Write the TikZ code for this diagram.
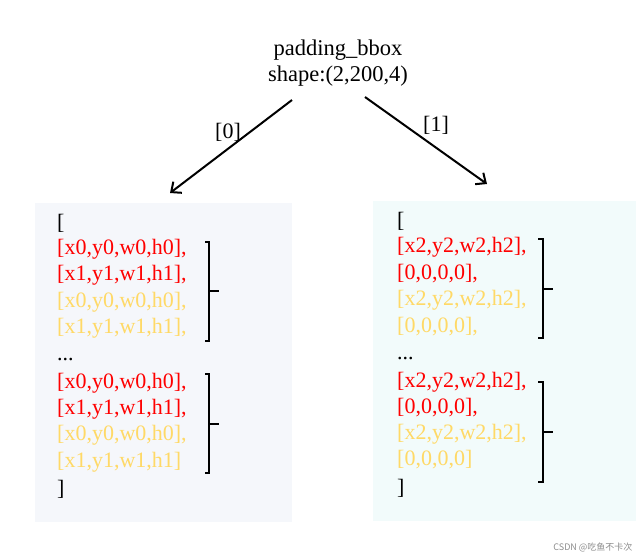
\documentclass[tikz,border=0pt]{standalone}
\usepackage{fontspec}
\setmainfont{Liberation Serif}
\newfontfamily\cjk{Noto Sans CJK SC}
\usetikzlibrary{arrows.meta}

\definecolor{boxgray}{HTML}{F5F7FB}
\definecolor{boxcyan}{HTML}{F2FBFB}
\definecolor{gold}{HTML}{FFD966}

\tikzstyle{caja} = [rectangle, inner sep=0pt, anchor=north west]
\tikzstyle{fila} = [anchor=mid west, inner sep=0pt, font=\fontsize{22}{26}\selectfont]
\tikzstyle{flecha} = [-{Straight Barb[length=8pt,width=14pt]}, line width=2pt]
\tikzstyle{llave} = [line width=1.2pt]

\begin{document}
\begin{tikzpicture}[x=1pt,y=-1pt]
		\useasboundingbox (0,0) rectangle (641,558);
		% Cajas
		\node[caja, fill=boxgray, minimum width=257, minimum height=319] (izq) at (35,203) {};
		\node[caja, fill=boxcyan, minimum width=263, minimum height=320] (der) at (373,201) {};
		% Titulo
		\node[align=center, font=\fontsize{22.5}{26}\selectfont] (titulo) at (338,63) {padding\_bbox\\shape:(2,200,4)};
		\coordinate (s0) at (292,100);
		\coordinate (t0) at (170,193);
		\coordinate (s1) at (365,97);
		\coordinate (t1) at (487,184);
		\draw[flecha] (s0) -- (t0);
		\draw[flecha] (s1) -- (t1);
		\node[fila, anchor=center] (idx0) at (228,132) {[0]};
		\node[fila, anchor=center] (idx1) at (436,125) {[1]};
		% Lista izquierda
		\node[fila] (l0) at (57,227) {[};
		\node[fila, text=red] (l1) at (57,252) {[x0,y0,w0,h0],};
		\node[fila, text=red] (l2) at (57,278) {[x1,y1,w1,h1],};
		\node[fila, text=gold] (l3) at (57,305) {[x0,y0,w0,h0],};
		\node[fila, text=gold] (l4) at (57,331) {[x1,y1,w1,h1],};
		\node[fila] (l5) at (57,358) {...};
		\node[fila, text=red] (l6) at (57,386) {[x0,y0,w0,h0],};
		\node[fila, text=red] (l7) at (57,412) {[x1,y1,w1,h1],};
		\node[fila, text=gold] (l8) at (57,438) {[x0,y0,w0,h0],};
		\node[fila, text=gold] (l9) at (57,465) {[x1,y1,w1,h1]};
		\node[fila] (l10) at (57,493) {]};
		\draw[llave] (205,242) -- (209,242) -- (209,341) -- (205,341);
		\draw[llave] (209,291) -- (219,291);
		\draw[llave] (205,374) -- (209,374) -- (209,473) -- (205,473);
		\draw[llave] (209,424) -- (219,424);
		% Lista derecha
		\node[fila] (r0) at (397,225) {[};
		\node[fila, text=red] (r1) at (397,250) {[x2,y2,w2,h2],};
		\node[fila, text=red] (r2) at (397,277) {[0,0,0,0],};
		\node[fila, text=gold] (r3) at (397,303) {[x2,y2,w2,h2],};
		\node[fila, text=gold] (r4) at (397,330) {[0,0,0,0],};
		\node[fila] (r5) at (397,357) {...};
		\node[fila, text=red] (r6) at (397,385) {[x2,y2,w2,h2],};
		\node[fila, text=red] (r7) at (397,411) {[0,0,0,0],};
		\node[fila, text=gold] (r8) at (397,437) {[x2,y2,w2,h2],};
		\node[fila, text=gold] (r9) at (397,463) {[0,0,0,0]};
		\node[fila] (r10) at (397,492) {]};
		\draw[llave] (538,239) -- (543,239) -- (543,338) -- (538,338);
		\draw[llave] (543,289) -- (553,289);
		\draw[llave] (538,382) -- (543,382) -- (543,482) -- (538,482);
		\draw[llave] (543,432) -- (553,432);
		% Marca
		\node[anchor=east, text=black!45, font=\cjk\fontsize{9}{9}\selectfont] (marca) at (636,547) {CSDN @吃鱼不卡次};
	\end{tikzpicture}
\end{document}
